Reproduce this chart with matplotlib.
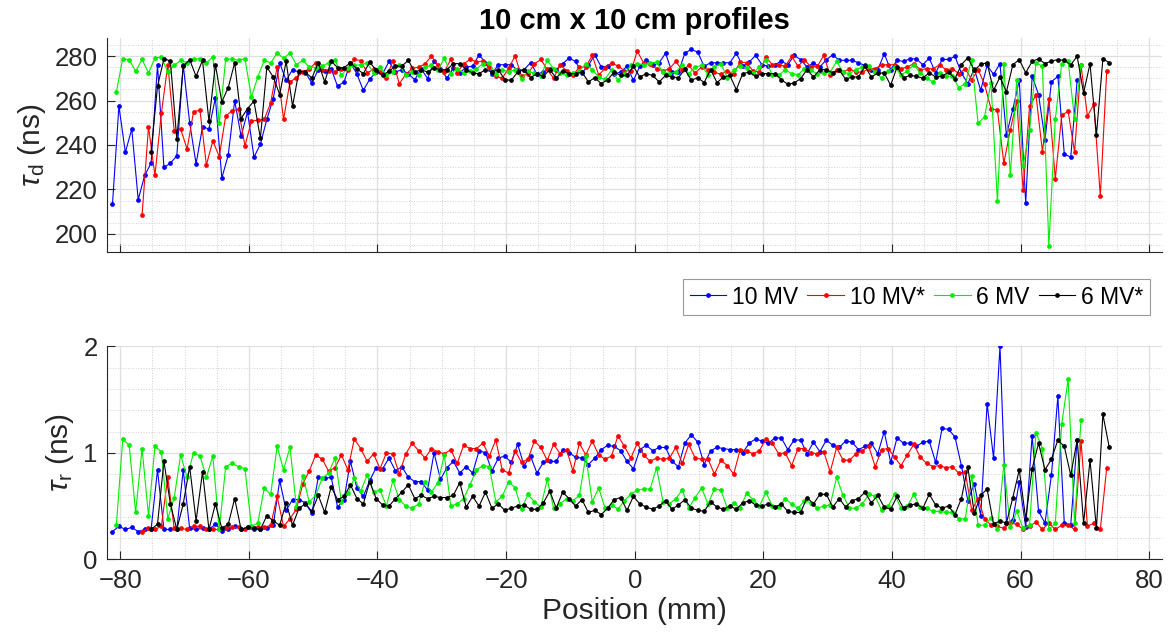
import numpy as np
import matplotlib
matplotlib.use("Agg")
import matplotlib.pyplot as plt
from matplotlib.ticker import MultipleLocator

plt.rcParams['font.family'] = ['Liberation Sans', 'DejaVu Sans']
plt.rcParams['mathtext.fontset'] = 'custom'
plt.rcParams['mathtext.rm'] = 'Liberation Sans'
plt.rcParams['mathtext.it'] = 'Liberation Sans:italic'

# ---- data ----
labels = ["10 MV", "10 MV*", "6 MV", "6 MV*"]
colors = ["#0000ff", "#ff0000", "#00ee00", "#000000"]
# first position (mm) of each profile, 1 mm sampling
pos_start = [-81.2, -76.6, -80.6, -75.2]

# tau_d (ns)
td_10mv = [213.4, 257.5, 236.7, 247.2, 215.4, 226.3, 231.8, 276.1, 229.9, 231.8, 235.1, 276.1, 250.0, 231.5, 248.2, 247.2,
           261.2, 225.1, 235.5, 259.9, 244.0, 254.9, 234.5, 240.4, 251.5, 260.9, 276.9, 269.1, 273.9, 272.8, 272.5, 267.9,
           273.9, 273.3, 274.3, 266.4, 268.4,
           277.0, 272.0, 264.6, 269.6, 272.8, 272.0, 277.6, 272.8, 273.9, 272.0, 269.4, 274.3, 269.9, 277.6, 274.3, 270.1,
           274.6, 272.4, 275.1, 275.4, 280.6, 277.0, 272.0, 276.1, 276.1, 276.1, 273.6, 273.9, 277.0, 272.0, 272.8, 274.3,
           273.9, 276.6, 279.1, 277.6, 272.4, 275.8, 280.6, 275.1, 275.5, 272.0, 272.8, 275.4, 269.1, 275.4,
           278.4, 275.8, 277.0, 281.3, 272.8, 272.8, 281.3, 283.0, 281.8, 275.4, 277.0, 277.0, 277.0, 277.0, 281.3, 275.5,
           277.3, 280.3, 276.1, 275.4, 276.1, 277.8, 276.1, 280.3, 278.4, 275.1, 277.0, 275.1, 278.4, 280.6, 278.1, 278.1,
           278.1, 277.0, 275.8, 273.9, 273.9, 281.0, 273.9, 278.1, 277.6, 278.8, 278.8, 276.1, 279.1,
           272.4, 278.5, 278.5, 279.9, 272.4, 267.6, 274.3, 264.6, 275.8, 271.8, 276.6, 244.5, 256.1, 269.1, 213.9, 270.9,
           262.7, 242.2, 268.4, 270.9, 236.0, 234.5, 269.1]
td_10mvs = [208.4, 248.2, 226.3, 254.2, 276.1, 246.3, 247.2, 238.2, 254.9, 255.7, 231.0, 241.8, 234.8, 253.0, 255.4, 256.0,
            239.6, 250.7, 251.2, 251.5, 259.0, 275.1, 251.5, 268.4, 270.3, 272.8, 274.3, 277.0, 273.9, 273.3, 272.8, 274.3,
            273.9,
            278.5, 278.0, 272.5, 274.0, 273.0, 270.0, 278.0, 267.5, 271.8, 274.5, 275.0, 276.5, 280.0, 276.0, 273.0, 278.5,
            272.5, 276.5, 278.5, 277.5, 277.7, 275.0, 271.0, 270.0, 274.5, 280.0, 271.0, 272.0, 276.5, 278.5, 274.0, 270.0,
            276.0, 273.5, 271.5, 275.0, 275.2, 280.3, 271.5, 274.5, 277.0, 275.5, 273.5, 273.2, 282.2,
            276.9, 276.3, 274.3, 273.3, 274.3, 277.6, 273.6, 275.8, 272.4, 275.1, 273.9, 272.8, 271.8, 273.3, 272.1, 277.3,
            277.0, 273.3, 272.8, 279.6, 276.1, 276.1, 275.4, 279.9, 275.4, 278.4, 275.1, 275.4, 280.3, 271.3, 273.9, 272.8,
            274.3, 272.8, 272.8, 274.3, 274.3, 276.1, 276.1, 276.1, 274.3, 275.1, 276.6, 273.9, 274.3,
            274.3, 276.1, 273.9, 274.3, 272.1, 274.3, 269.4, 273.9, 267.3, 256.4, 255.7, 231.8, 246.7, 259.7, 219.6, 257.5,
            262.4, 237.0, 260.6, 224.8, 253.4, 255.1, 236.9, 275.8, 253.0, 258.4, 216.9, 273.3]
td_6mv = [263.9, 278.8, 278.4, 273.1, 278.5, 272.4, 279.1, 279.6, 272.8, 275.8, 278.1, 277.0, 278.8, 278.8, 277.0, 279.6,
          249.7, 278.5, 278.8, 278.1, 278.8, 261.6, 270.6, 278.1, 277.0, 281.3, 279.1, 281.3, 276.1, 278.1, 275.1, 274.8,
          275.4, 277.0, 278.4, 271.3, 274.8,
          275.8, 276.1, 276.9, 272.4, 275.1, 271.3, 272.8, 276.1, 271.3, 272.8, 271.3, 275.1, 275.8, 273.6, 279.1, 272.1,
          274.3, 272.4, 273.1, 274.3, 276.6, 277.0, 271.8, 273.9, 272.8, 273.9, 269.9, 273.1, 272.4, 270.9, 278.1, 274.3,
          272.4, 271.3, 272.4, 273.3, 276.6, 273.9, 270.6, 269.6, 273.9, 269.1, 272.1, 275.8, 276.6,
          276.1, 276.9, 277.3, 272.8, 272.1, 272.8, 276.1, 272.1, 275.1, 275.8, 271.6, 275.1, 276.6, 270.3, 273.9, 275.4,
          274.8, 272.4, 275.1, 278.1, 271.3, 271.3, 273.9, 272.1, 271.6, 274.3, 273.9, 271.8, 272.4, 272.8, 277.6, 272.8,
          272.1, 273.9, 275.1, 275.4, 272.8, 270.1, 273.1, 275.1, 271.6, 273.3, 276.1, 272.4, 270.1,
          268.4, 272.4, 270.9, 270.9, 265.8, 267.6, 278.4, 249.7, 252.7, 267.9, 214.6, 276.6, 226.3, 269.1, 230.6, 246.7,
          277.0, 275.4, 194.5, 251.6, 276.6, 277.8, 251.5, 275.8]
td_6mvs = [236.9, 266.4, 278.8, 277.8, 242.7, 275.4, 278.4, 270.9, 278.1, 250.7, 276.1, 259.4, 265.8, 277.0, 251.9, 256.4,
           259.7, 243.0, 275.1, 270.6, 262.7, 277.6, 257.5, 273.3, 272.8, 270.1, 277.0, 268.4, 277.8, 274.8, 274.8, 277.0,
           274.3, 272.1, 277.3, 273.6, 271.3, 273.3, 275.4, 275.5, 278.1, 272.8, 273.9, 272.8, 274.6, 273.9, 273.9, 276.6,
           276.6, 273.9, 272.4, 272.1, 273.9, 272.8, 273.9, 269.4, 269.1, 272.8, 273.9, 270.3, 272.1, 270.9, 273.9, 270.1,
           273.3, 272.1, 272.1, 272.8, 268.4, 270.3, 267.6, 269.4, 272.8, 271.3, 271.3, 275.4, 270.6,
           272.1, 271.3, 268.4, 271.3, 270.6, 270.3, 274.0, 269.1, 270.3, 268.1, 273.9, 268.1, 270.6, 271.3, 264.9, 272.1,
           272.8, 270.9, 272.1, 272.1, 272.1, 269.4, 267.3, 267.9, 269.9, 273.9, 270.6, 273.9, 273.9, 272.4, 273.6, 269.6,
           270.6, 270.6, 275.4, 270.6, 272.4, 272.4, 266.9, 275.1, 270.3, 271.3, 270.9, 270.1, 272.5,
           270.6, 270.9, 272.8, 269.9, 276.1, 279.3, 273.6, 276.3, 277.0, 264.6, 270.6, 263.9, 276.1, 278.4, 272.5, 277.6,
           278.8, 276.6, 277.8, 278.4, 278.1, 276.1, 279.9, 263.4, 276.6, 244.5, 278.8, 277.0]

# tau_r (ns)
tr_10mv = [0.26, 0.31, 0.28, 0.30, 0.26, 0.28, 0.28, 0.84, 0.28, 0.28, 0.28, 0.84, 0.29, 0.28, 0.29, 0.28, 0.33, 0.27,
           0.28, 0.31, 0.28, 0.30, 0.28, 0.28, 0.29, 0.32, 0.74, 0.46, 0.56, 0.56, 0.53, 0.43, 0.77, 0.76, 0.77, 0.49, 0.56,
           0.92, 0.67, 0.59, 0.74, 0.86, 0.85, 0.95, 0.83, 0.87, 0.77, 0.73, 0.73, 0.65, 1.00, 0.75, 0.86, 0.92, 0.81,
           0.87, 0.81, 1.02, 1.00, 0.83, 0.95, 0.97, 0.91, 1.08, 0.88, 0.97, 0.81, 0.91, 0.92, 0.92, 1.03, 1.00, 0.96,
           0.95, 0.89, 0.95, 1.03, 1.07, 1.06, 1.02, 0.92, 0.85, 1.03,
           1.07, 1.02, 1.05, 1.05, 0.92, 0.87, 1.09, 1.17, 1.10, 0.89, 1.02, 1.05, 1.04, 1.03, 1.03, 1.00, 1.09, 1.13,
           1.11, 1.09, 1.14, 1.14, 1.03, 1.12, 1.12, 0.99, 1.10, 1.01, 1.12, 1.07, 1.05, 1.11, 1.10, 1.03, 1.06, 1.09,
           0.99, 1.20, 0.91, 1.14, 1.09, 1.09, 1.06, 1.10, 1.11,
           0.91, 1.23, 1.22, 1.15, 0.88, 0.55, 0.71, 0.41, 1.46, 0.95, 2.00, 0.34, 0.37, 0.73, 0.30, 1.16, 0.45, 0.34,
           0.79, 1.53, 0.34, 0.32, 1.12]
tr_10mvs = [0.26, 0.29, 0.28, 0.31, 0.77, 0.29, 0.29, 0.28, 0.31, 0.31, 0.28, 0.28, 0.28, 0.29, 0.30, 0.30, 0.28, 0.30,
            0.30, 0.30, 0.32, 0.59, 0.31, 0.38, 0.47, 0.71, 0.83, 0.98, 0.94, 0.83, 0.86, 0.98, 0.84,
            1.13, 1.04, 0.92, 0.99, 0.85, 1.00, 0.99, 0.80, 0.99, 1.09, 1.02, 0.95, 1.04, 1.01, 0.99, 1.03, 0.90, 1.07,
            1.04, 1.04, 1.09, 0.97, 1.12, 0.84, 0.81, 1.02, 0.91, 0.94, 1.11, 1.05, 0.93, 1.08, 0.99, 1.03, 0.83, 1.09,
            0.98, 1.11, 0.98, 0.94, 0.97, 1.16, 1.06, 0.95, 1.09,
            0.98, 0.92, 0.95, 0.94, 0.95, 1.05, 0.90, 1.08, 0.95, 0.94, 0.94, 0.80, 0.93, 0.88, 0.80, 1.03, 1.02, 0.99,
            1.02, 1.13, 1.09, 0.99, 1.00, 0.88, 1.04, 1.04, 1.00, 0.99, 1.01, 0.82, 1.05, 0.93, 0.93, 0.99, 1.02, 1.06,
            0.87, 1.03, 1.04, 0.96, 0.88, 0.98, 1.08, 0.96, 0.90,
            0.87, 0.88, 0.86, 0.87, 0.81, 0.82, 0.46, 0.57, 0.38, 0.32, 0.31, 0.29, 0.34, 0.33, 0.28, 0.31, 0.35, 0.28,
            0.34, 0.28, 0.32, 0.32, 0.28, 1.11, 0.31, 0.34, 0.28, 0.86]
tr_6mv = [0.32, 1.13, 1.07, 0.44, 1.04, 0.41, 1.06, 1.01, 0.38, 0.58, 0.98, 0.77, 1.00, 0.97, 0.77, 0.97, 0.28, 0.87,
          0.90, 0.87, 0.85, 0.31, 0.34, 0.67, 0.61, 1.06, 0.84, 1.05, 0.49, 0.78, 0.54, 0.60, 0.76, 0.81, 0.95, 0.54, 0.62,
          0.76, 0.64, 0.79, 0.63, 0.65, 0.50, 0.74, 0.56, 0.50, 0.48, 0.52, 0.73, 0.63, 0.72, 0.98, 0.50, 0.52, 0.57,
          0.70, 0.84, 0.88, 0.87, 0.54, 0.59, 0.73, 0.67, 0.47, 0.61, 0.54, 0.49, 0.75, 0.48, 0.52, 0.57, 0.55, 0.60,
          0.97, 0.54, 0.67, 0.48, 0.51, 0.47, 0.55, 0.61, 0.65,
          0.66, 0.66, 0.86, 0.54, 0.52, 0.57, 0.65, 0.48, 0.58, 0.67, 0.52, 0.66, 0.65, 0.48, 0.53, 0.48, 0.62, 0.56,
          0.50, 0.63, 0.50, 0.49, 0.57, 0.52, 0.48, 0.55, 0.53, 0.48, 0.50, 0.51, 0.77, 0.60, 0.48, 0.48, 0.52, 0.61,
          0.59, 0.46, 0.50, 0.61, 0.48, 0.50, 0.61, 0.49, 0.48,
          0.45, 0.45, 0.44, 0.44, 0.38, 0.38, 0.78, 0.32, 0.32, 0.39, 0.28, 0.89, 0.30, 0.45, 0.29, 0.32, 1.19, 1.04,
          0.28, 0.34, 1.27, 1.69, 0.34, 1.31]
tr_6mvs = [0.28, 0.33, 0.92, 0.52, 0.28, 0.52, 0.87, 0.36, 0.82, 0.28, 0.52, 0.29, 0.33, 0.57, 0.28, 0.30, 0.29, 0.28,
           0.41, 0.36, 0.32, 0.53, 0.32, 0.48, 0.52, 0.45, 0.60, 0.44, 0.68, 0.56, 0.59, 0.70,
           0.57, 0.52, 0.73, 0.57, 0.51, 0.50, 0.57, 0.63, 0.70, 0.57, 0.60, 0.57, 0.59, 0.58, 0.58, 0.60, 0.72, 0.49,
           0.59, 0.50, 0.63, 0.48, 0.52, 0.46, 0.48, 0.50, 0.51, 0.47, 0.47, 0.53, 0.64, 0.48, 0.63, 0.57, 0.50, 0.56,
           0.44, 0.46, 0.42, 0.48, 0.56, 0.58, 0.46, 0.59, 0.52,
           0.49, 0.47, 0.50, 0.55, 0.47, 0.51, 0.56, 0.48, 0.46, 0.45, 0.54, 0.49, 0.47, 0.50, 0.47, 0.53, 0.55, 0.51,
           0.50, 0.52, 0.49, 0.52, 0.45, 0.44, 0.44, 0.58, 0.52, 0.61, 0.61, 0.49, 0.57, 0.49, 0.55, 0.57, 0.63, 0.53,
           0.60, 0.49, 0.47, 0.59, 0.48, 0.51, 0.52, 0.48, 0.61,
           0.51, 0.48, 0.50, 0.42, 0.57, 0.87, 0.43, 0.60, 0.66, 0.33, 0.36, 0.34, 0.58, 0.84, 0.38, 0.85, 1.09, 0.84,
           0.94, 1.12, 1.06, 0.79, 1.12, 0.34, 0.93, 0.29, 1.36, 1.05]

td_all = [td_10mv, td_10mvs, td_6mv, td_6mvs]
tr_all = [tr_10mv, tr_10mvs, tr_6mv, tr_6mvs]

AXC = "#262626"


def style_axis(ax, ylim, ymajor, yminor):
    ax.set_xlim(-82, 82)
    ax.set_ylim(*ylim)
    ax.xaxis.set_major_locator(MultipleLocator(20))
    ax.xaxis.set_minor_locator(MultipleLocator(5))
    ax.yaxis.set_major_locator(MultipleLocator(ymajor))
    ax.yaxis.set_minor_locator(MultipleLocator(yminor))
    ax.grid(which="major", color="#dfdfdf", lw=0.9)
    ax.grid(which="minor", color="#cfcfcf", ls=":", lw=0.7)
    ax.set_axisbelow(True)
    for s in ("top", "right"):
        ax.spines[s].set_visible(False)
    for s in ("left", "bottom"):
        ax.spines[s].set_color(AXC)
        ax.spines[s].set_linewidth(0.8)
    ax.tick_params(which="major", direction="in", length=6, width=0.8, color=AXC,
                   labelcolor=AXC, labelsize=18.5, pad=7)
    ax.tick_params(which="minor", length=0)


fig = plt.figure(figsize=(11.68, 6.43), dpi=100)
ax1 = fig.add_axes([0.0919, 0.6086, 0.903, 0.3318])
ax2 = fig.add_axes([0.0919, 0.1302, 0.903, 0.3312])

handles = []
for i in range(4):
    x1 = pos_start[i] + np.arange(len(td_all[i]))
    x2 = pos_start[i] + np.arange(len(tr_all[i]))
    h, = ax1.plot(x1, td_all[i], "-o", color=colors[i], lw=0.8, ms=2.4, label=labels[i])
    ax2.plot(x2, tr_all[i], "-o", color=colors[i], lw=0.8, ms=2.4)
    handles.append(h)

style_axis(ax1, (192, 288), 20, 5)
style_axis(ax2, (0, 2), 1, 0.2)
ax1.tick_params(labelbottom=False)

ax1.set_title("10 cm x 10 cm profiles", fontsize=21, fontweight="bold", pad=6.5)
ax1.set_ylabel(r"$\tau_{\rm d}$ (ns)", fontsize=21.5, color=AXC, labelpad=5)
ax2.set_ylabel(r"$\tau_{\rm r}$ (ns)", fontsize=21.5, color=AXC, labelpad=5)
ax2.set_xlabel("Position (mm)", fontsize=21.5, color=AXC, labelpad=3)

leg = fig.legend(handles, labels, loc="center", bbox_to_anchor=(0.7847, 0.5381), ncol=4,
                 fontsize=16.5, frameon=True, fancybox=False, edgecolor="#808080",
                 handlelength=1.6, handletextpad=0.25, columnspacing=0.4,
                 borderpad=0.3, borderaxespad=0)
leg.get_frame().set_linewidth(0.8)

fig.savefig("out.png", dpi=100)
plt.close(fig)
